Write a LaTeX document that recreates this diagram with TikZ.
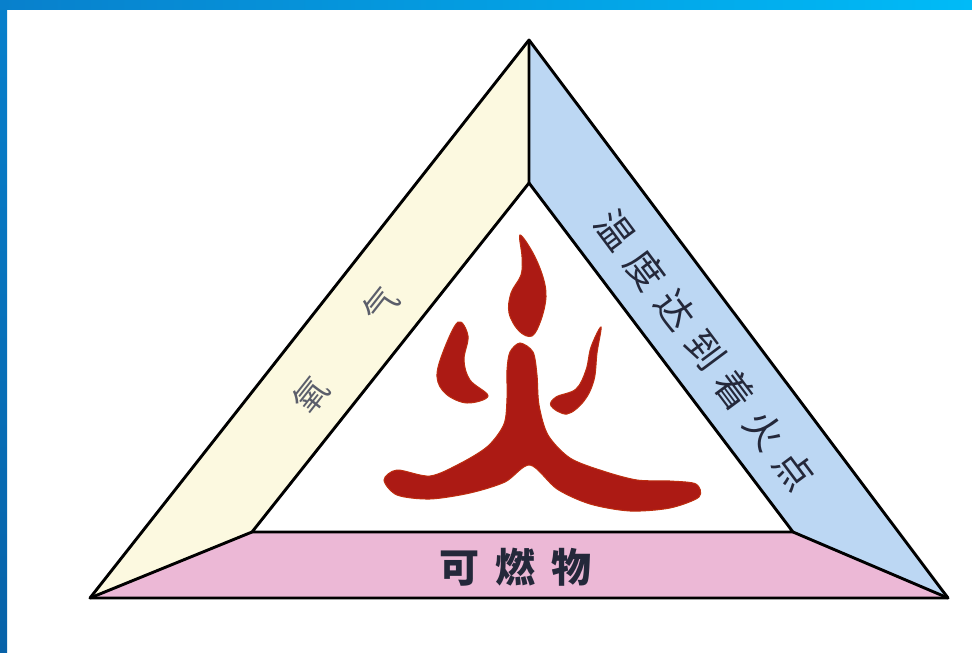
\documentclass[tikz,border=0pt]{standalone}
\usepackage{fontspec}
\usetikzlibrary{calc}
\newfontfamily\cjk{Noto Sans CJK SC}
\definecolor{oxyellow}{RGB}{252,249,224}
\definecolor{heatblue}{RGB}{188,215,243}
\definecolor{fuelpink}{RGB}{236,184,214}
\definecolor{firered}{RGB}{172,26,20}
\definecolor{inkgray}{RGB}{36,40,58}
\definecolor{frameA}{RGB}{8,128,204}
\definecolor{frameB}{RGB}{0,187,247}
\definecolor{frameC}{RGB}{8,98,168}
\tikzstyle{band} = [draw=black, line width=2.9pt, line join=round]
\tikzstyle{label} = [inner sep=0pt, text=inkgray, font=\cjk]
\tikzstyle{stroke} = [fill=firered, draw=firered!80!orange, line width=1pt]

\begin{document}
\begin{tikzpicture}[x=1pt, y=-1pt]
\useasboundingbox (0,0) rectangle (972,653);
\fill[white] (0,0) rectangle (972,653);
% frame strips
\shade[left color=frameA, right color=frameB] (0,0) rectangle (972,9);
\shade[top color=frameA, bottom color=frameC] (0,0) rectangle (7,653);

% outer and inner corners
\coordinate (A) at (529,40);
\coordinate (B) at (90,598);
\coordinate (C) at (948,598);
\coordinate (a) at (529,183);
\coordinate (b) at (252,532);
\coordinate (c) at (793,532);

\fill[oxyellow] (A) -- (B) -- (b) -- (a) -- cycle;
\fill[heatblue] (A) -- (a) -- (c) -- (C) -- cycle;
\fill[fuelpink] (B) -- (C) -- (c) -- (b) -- cycle;
\draw[band] (A) -- (B) -- (C) -- cycle;
\draw[band] (a) -- (b) -- (c) -- cycle;
\draw[band] (A) -- (a) (B) -- (b) (C) -- (c);

% side labels
\node (oxygen) [label, text=inkgray!75, rotate=51.8] at (346,350)
  {\fontsize{34}{34}\selectfont 氧\hspace{80pt}气};
\node (heat) [label, rotate=-53.3] at (705,350)
  {\fontsize{38}{38}\selectfont 温\hspace{12pt}度\hspace{12pt}达\hspace{12pt}到\hspace{12pt}着\hspace{12pt}火\hspace{12pt}点};
\node (fuel) [label] at (515,567)
  {\fontsize{40}{40}\selectfont\bfseries 可\hspace{16pt}燃\hspace{16pt}物};

% the brushed fire sign
\filldraw[stroke] plot[smooth cycle, tension=0.6] coordinates {
  (520,235) (533,253) (543,277) (546,297) (541,320) (532,336)
  (519,331) (509,313) (511,293) (521,275) (522,257)};
\filldraw[stroke] plot[smooth cycle, tension=0.6] coordinates {
  (458,322) (443,352) (437,377) (446,394) (467,403) (488,396)
  (470,380) (464,360) (468,336)};
\filldraw[stroke] plot[smooth cycle, tension=0.6] coordinates {
  (601,327) (597,353) (594,380) (584,401) (567,414) (551,406)
  (556,397) (576,389) (586,370) (591,347)};
\filldraw[stroke] plot[smooth cycle, tension=0.5] coordinates {
  (520,343) (533,352) (537,375) (539,405) (548,435) (570,458)
  (603,471) (637,480) (670,481) (696,484) (699,497) (670,508)
  (630,511) (590,504) (557,489) (530,465) (505,482) (470,493)
  (430,499) (397,495) (384,480) (397,470) (430,476) (461,463)
  (488,446) (504,424) (507,398) (507,370) (510,352)};
\end{tikzpicture}
\end{document}
